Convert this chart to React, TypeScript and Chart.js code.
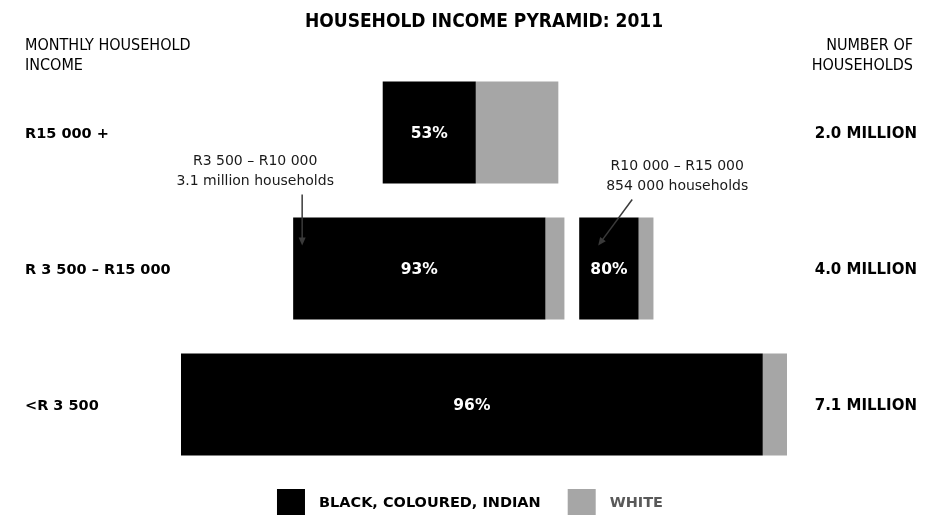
import React, { useEffect, useRef } from 'react';
import { Chart, registerables } from 'chart.js';

Chart.register(...registerables);

// ---- data ----
const chartTitle = 'HOUSEHOLD INCOME PYRAMID: 2011';
const leftHeader = ['MONTHLY HOUSEHOLD', 'INCOME'];
const rightHeader = ['NUMBER OF', 'HOUSEHOLDS'];
const incomeBands = ['R15 000 +', 'R 3 500 – R15 000', '<R 3 500'];
const householdTotals = ['2.0 MILLION', '4.0 MILLION', '7.1 MILLION'];
const seriesNames = ['BLACK, COLOURED, INDIAN', 'WHITE'];

// main bar of each band, in millions of households
const mainHouseholds = [2.02, 3.12, 6.97];
const mainBlackShare = [0.53, 0.93, 0.96];
const mainStart = [2.32, 1.29, 0];
// second bar in the middle band (R10 000 – R15 000)
const splitHouseholds: (number | null)[] = [null, 0.854, null];
const splitBlackShare: (number | null)[] = [null, 0.8, null];
const splitStart: (number | null)[] = [null, 4.58, null];

const noteLeft = ['R3 500 – R10 000', '3.1 million households'];
const noteRight = ['R10 000 – R15 000', '854 000 households'];
const xMax = 6.97;

// ---- styles ----
const BLACK = '#000000';
const GREY = '#A6A6A6';
const GREY_TEXT = '#595959';
const COND = '"DejaVu Sans Condensed", "DejaVu Sans", sans-serif';
const SANS = '"DejaVu Sans", sans-serif';

function blackSeg(start: (number | null)[], total: (number | null)[], share: (number | null)[]) {
  return start.map((s, i) => (s == null ? null : [s, s + (total[i] as number) * (share[i] as number)]));
}
function greySeg(start: (number | null)[], total: (number | null)[], share: (number | null)[]) {
  return start.map((s, i) =>
    s == null ? null : [s + (total[i] as number) * (share[i] as number), s + (total[i] as number)]
  );
}

function arrow(ctx: CanvasRenderingContext2D, x1: number, y1: number, x2: number, y2: number) {
  const ang = Math.atan2(y2 - y1, x2 - x1);
  const len = 8;
  const hw = 3.5;
  ctx.save();
  ctx.strokeStyle = '#3a3a3a';
  ctx.fillStyle = '#3a3a3a';
  ctx.lineWidth = 1.5;
  ctx.beginPath();
  ctx.moveTo(x1, y1);
  ctx.lineTo(x2 - Math.cos(ang) * len * 0.8, y2 - Math.sin(ang) * len * 0.8);
  ctx.stroke();
  ctx.beginPath();
  ctx.moveTo(x2, y2);
  ctx.lineTo(x2 - Math.cos(ang) * len - Math.sin(ang) * hw, y2 - Math.sin(ang) * len + Math.cos(ang) * hw);
  ctx.lineTo(x2 - Math.cos(ang) * len + Math.sin(ang) * hw, y2 - Math.sin(ang) * len - Math.cos(ang) * hw);
  ctx.closePath();
  ctx.fill();
  ctx.restore();
}

const overlay = {
  id: 'overlay',
  afterDraw(chart: any) {
    const ctx: CanvasRenderingContext2D = chart.ctx;
    const area = chart.chartArea;
    const ys = chart.scales.y;
    const W = chart.width;
    ctx.save();
    (ctx as any).fontStretch = 'normal';

    // title
    ctx.fillStyle = BLACK;
    ctx.textAlign = 'center';
    ctx.textBaseline = 'alphabetic';
    ctx.font = `bold 19px ${COND}`;
    (ctx as any).fontStretch = 'condensed';
    ctx.fillText(chartTitle, (area.left + area.right) / 2, 27);

    // headers
    ctx.font = `16px ${COND}`;
    ctx.textAlign = 'left';
    leftHeader.forEach((t, i) => ctx.fillText(t, 25, 50 + i * 19.5));
    ctx.textAlign = 'right';
    rightHeader.forEach((t, i) => ctx.fillText(t, 913, 50 + i * 19.5));
    (ctx as any).fontStretch = 'normal';

    // row labels
    incomeBands.forEach((t, i) => {
      const cy = ys.getPixelForValue(i);
      ctx.font = `bold 14.5px ${SANS}`;
      ctx.textAlign = 'left';
      ctx.fillStyle = BLACK;
      ctx.fillText(t, 25, cy + 5.3);
      ctx.font = `bold 15px ${SANS}`;
      ctx.textAlign = 'right';
      ctx.fillText(householdTotals[i], 917, cy + 5.5);
    });

    // percentage labels
    ctx.font = `bold 15.5px ${SANS}`;
    ctx.textAlign = 'center';
    ctx.fillStyle = '#ffffff';
    const m0 = chart.getDatasetMeta(0).data;
    const m2 = chart.getDatasetMeta(2).data;
    mainBlackShare.forEach((s, i) => {
      const el = m0[i];
      ctx.fillText(`${Math.round(s * 100)}%`, (el.x + el.base) / 2, el.y + 5.6);
    });
    splitBlackShare.forEach((s, i) => {
      if (s == null) return;
      const el = m2[i];
      ctx.fillText(`${Math.round(s * 100)}%`, (el.x + el.base) / 2, el.y + 5.6);
    });

    // annotations
    ctx.font = `14px ${SANS}`;
    ctx.fillStyle = '#1a1a1a';
    const a = m0[1];
    const aTop = a.y - a.height / 2;
    const aLeft = Math.min(a.x, a.base);
    noteLeft.forEach((t, i) => ctx.fillText(t, aLeft - 38, aTop - 52.5 + i * 20));
    arrow(ctx, aLeft + 9, aTop - 23, aLeft + 9, aTop + 28);

    const b = m2[1];
    const bTop = b.y - b.height / 2;
    const bLeft = Math.min(b.x, b.base);
    noteRight.forEach((t, i) => ctx.fillText(t, bLeft + 98, bTop - 47.5 + i * 20));
    arrow(ctx, bLeft + 53, bTop - 18, bLeft + 19, bTop + 28);

    // legend
    ctx.font = `bold 14.5px ${SANS}`;
    const box = 28;
    const boxH = 26;
    const gapText = 14;
    const gapItem = 27;
    const w0 = ctx.measureText(seriesNames[0]).width;
    const w1 = ctx.measureText(seriesNames[1]).width;
    const total = box + gapText + w0 + gapItem + box + gapText + w1;
    let lx = 470 - total / 2;
    const ly = 489;
    const colors = [BLACK, GREY];
    const textColors = [BLACK, GREY_TEXT];
    [w0, w1].forEach((w, i) => {
      ctx.fillStyle = colors[i];
      ctx.fillRect(lx, ly, box, boxH);
      ctx.fillStyle = textColors[i];
      ctx.textAlign = 'left';
      ctx.fillText(seriesNames[i], lx + box + gapText, ly + 18);
      lx += box + gapText + w + gapItem;
    });
    ctx.restore();
  },
};

export default function App() {
  const ref = useRef<HTMLCanvasElement | null>(null);
  useEffect(() => {
    document.body.style.margin = '0';
    const canvas = ref.current;
    if (!canvas) return;
    const common = {
      grouped: false,
      categoryPercentage: 1,
      barPercentage: 0.75,
      borderWidth: 0,
    };
    const chart = new Chart(canvas, {
      type: 'bar',
      data: {
        labels: incomeBands,
        datasets: [
          { label: seriesNames[0], data: blackSeg(mainStart, mainHouseholds, mainBlackShare) as any, backgroundColor: BLACK, ...common },
          { label: seriesNames[1], data: greySeg(mainStart, mainHouseholds, mainBlackShare) as any, backgroundColor: GREY, ...common },
          { label: seriesNames[0], data: blackSeg(splitStart, splitHouseholds, splitBlackShare) as any, backgroundColor: BLACK, ...common },
          { label: seriesNames[1], data: greySeg(splitStart, splitHouseholds, splitBlackShare) as any, backgroundColor: GREY, ...common },
        ],
      },
      options: {
        indexAxis: 'y',
        animation: false,
        responsive: false,
        layout: { padding: { left: 181, right: 162, top: 64.5, bottom: 44.5 } },
        scales: {
          x: { type: 'linear', min: 0, max: xMax, display: false },
          y: { type: 'category', display: false, offset: true },
        },
        plugins: { legend: { display: false }, tooltip: { enabled: false } },
      } as any,
      plugins: [overlay],
    });
    return () => chart.destroy();
  }, []);
  return (
    <div style={{ width: 949, height: 517, background: '#ffffff' }}>
      <canvas ref={ref} width={949} height={517} style={{ display: 'block' }} />
    </div>
  );
}
